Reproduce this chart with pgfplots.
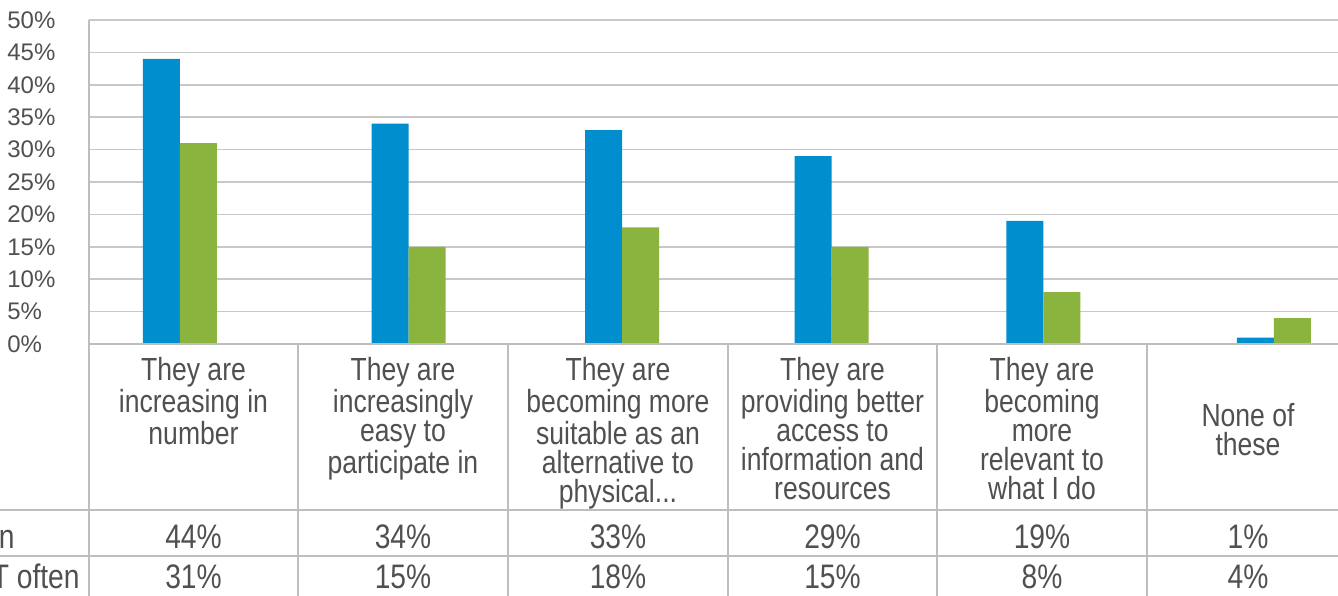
\documentclass[border=0pt]{standalone}
\usepackage{pgfplots}
\pgfplotsset{compat=1.18}
\usepackage{fontspec}
\setmainfont{Liberation Sans}
\newfontfamily\narrowfont[FakeStretch=0.83]{Liberation Sans}
\definecolor{barblue}{RGB}{0,142,207}
\definecolor{bargreen}{RGB}{139,180,62}
\definecolor{txt}{RGB}{80,80,80}
\definecolor{gridc}{RGB}{200,200,200}
\definecolor{rulec}{RGB}{190,190,190}

\begin{document}
\begin{tikzpicture}[x=0.5pt,y=0.5pt]
\begin{axis}[
  at={(44.5pt,125.5pt)}, anchor=south west,
  scale only axis, width=634.8pt, height=162pt,
  xmin=0, xmax=6, ymin=0, ymax=50,
  enlargelimits=false,
  ybar=0pt, bar width=18.5pt,
  axis line style={draw=none},
  xtick=\empty,
  ytick={0,5,...,50},
  yticklabels={0\%,5\%,10\%,15\%,20\%,25\%,30\%,35\%,40\%,45\%,50\%},
  yticklabel style={anchor=west, inner sep=0pt, xshift=-41pt,
    font=\fontsize{12}{14}\selectfont, text=txt},
  major tick length=0pt,
  ymajorgrids, grid style={gridc, line width=0.8pt},
  clip=false,
]
% blue series
\addplot[fill=barblue, draw=none] coordinates
  {(0.43,44) (1.51,34) (2.52,33) (3.51,29) (4.51,19) (5.60,1)};
% green series
\addplot[fill=bargreen, draw=none] coordinates
  {(0.43,31) (1.51,15) (2.52,18) (3.51,15) (4.51,8) (5.60,4)};
\end{axis}

% data table below the plot
\begin{scope}[rulec, line width=0.75pt]
  \draw (89,251) -- (1400,251);
  \draw (0,85) -- (1400,85);
  \draw (0,39) -- (1400,39);
  \draw (89,575) -- (89,-10);
  \foreach \xx in {298,508,728,937,1147}
    \draw (\xx,251) -- (\xx,-10);
\end{scope}

\begin{scope}[every node/.style={text=txt, inner sep=0pt,
    font=\narrowfont\fontsize{16}{14.5}\selectfont}]
  \node[anchor=north, align=center] at (193.5,238) {They are\\increasing in\\number};
  \node[anchor=north, align=center] at (403,238) {They are\\increasingly\\easy to\\participate in};
  \node[anchor=north, align=center] at (618,238) {They are\\becoming more\\suitable as an\\alternative to\\physical...};
  \node[anchor=north, align=center] at (832.5,238) {They are\\providing better\\access to\\information and\\resources};
  \node[anchor=north, align=center] at (1042,238) {They are\\becoming\\more\\relevant to\\what I do};
  \node[anchor=north, align=center] at (1248,192) {None of\\these};
\end{scope}

\begin{scope}[every node/.style={text=txt, inner sep=0pt,
    font=\narrowfont\fontsize{17}{19}\selectfont}]
  \node[anchor=base east] at (15,47) {n};
  \node[anchor=base east] at (80,7) {T often};
  \foreach \xx/\va/\vb in {193.5/44/31, 403/34/15, 618/33/18, 832.5/29/15, 1042/19/8, 1248/1/4} {
    \node[anchor=base] at (\xx,47) {\va\%};
    \node[anchor=base] at (\xx,7) {\vb\%};
  }
\end{scope}

\pgfresetboundingbox
\useasboundingbox (0,0) rectangle (1338,595);
\end{tikzpicture}
\end{document}
